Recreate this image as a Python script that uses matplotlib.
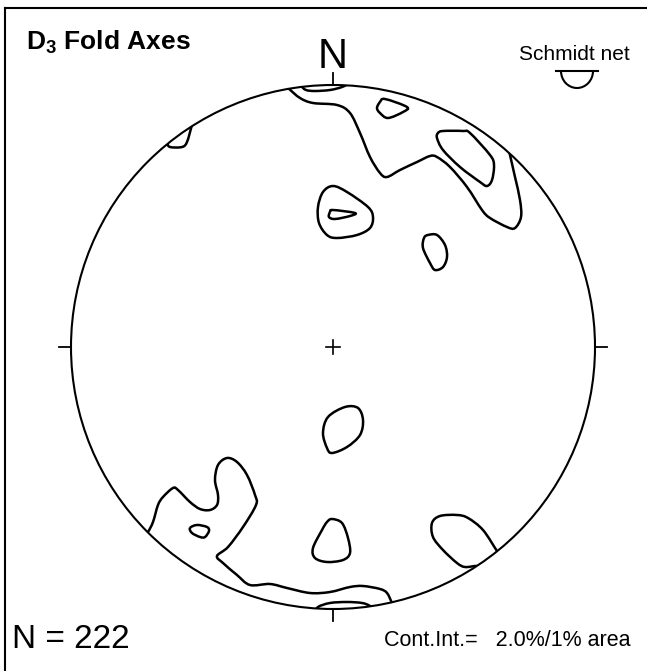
import numpy as np
import matplotlib
matplotlib.use("Agg")
import matplotlib.pyplot as plt
from matplotlib.patches import Circle, Arc, PathPatch
from matplotlib.path import Path

plt.rcParams['font.family'] = ['Liberation Sans', 'DejaVu Sans']
plt.rcParams['mathtext.fontset'] = 'custom'
plt.rcParams['mathtext.rm'] = 'Liberation Sans'
plt.rcParams['mathtext.bf'] = 'Liberation Sans:bold'

NET_R = 262.0
title = "D$_\\mathbf{3}$ Fold Axes"
n_label = "N = 222"
cont_label = "Cont.Int.=   2.0%/1% area"
net_label = "Schmidt net"

# open contours (end on the primitive circle)
north_band = [(-51, 264), (-45, 259), (-33, 249), (-20, 244), (4, 242), (17, 234), (27, 214),
              (37, 190), (47, 174), (54, 170), (67, 177), (84, 185), (97, 191), (104, 190),
              (117, 180), (134, 160), (149, 137), (157, 129), (174, 120), (182, 119),
              (188, 130), (187, 147), (182, 170), (177, 192), (175, 201)]
north_lens = [(-36, 265), (-32, 261), (-27, 257), (-18, 256), (-3, 257), (9, 260), (16, 264), (18, 268)]
nw_sliver = [(-169, 208), (-166, 204), (-163, 200), (-151, 200), (-146, 205), (-141, 222), (-139, 226)]
south_lens = [(-18, -266), (-15, -260), (-3, -256), (14, -255), (29, -256), (37, -259), (41, -264)]
sw_band = [(-188, -188), (-185, -185), (-180, -175), (-175, -158), (-170, -150), (-160, -141),
           (-155, -143), (-143, -155), (-133, -162), (-123, -163), (-116, -158), (-115, -148),
           (-118, -133), (-115, -118), (-106, -111), (-96, -115), (-86, -128), (-78, -148),
           (-77, -158), (-90, -180), (-105, -200), (-116, -209), (-110, -216), (-96, -228),
           (-83, -238), (-63, -237), (-46, -241), (-23, -246), (-3, -245), (17, -240),
           (30, -239), (47, -242), (54, -246), (59, -256), (62, -262)]
se_lobe = [(167, -207), (164, -204), (150, -183), (135, -171), (124, -168), (107, -169),
           (99, -176), (100, -190), (110, -203), (124, -216), (132, -220), (144, -219), (149, -222)]

# closed contours
ne_triangle = [(47, 245), (52, 248), (74, 240), (70, 235), (55, 229), (47, 234), (44, 239)]
ne_elongate = [(105, 214), (110, 216), (130, 216), (137, 214), (157, 192), (161, 182), (159, 167),
               (154, 161), (147, 165), (127, 180), (110, 197), (104, 209)]
cn_outer = [(0, 161), (14, 155), (35, 140), (40, 130), (37, 119), (24, 112), (4, 109),
            (-6, 112), (-14, 124), (-15, 140), (-10, 155)]
cn_inner = [(-3, 135), (0, 137), (22, 134), (17, 131), (2, 128), (-4, 130)]
ne_oval = [(91, 109), (95, 112), (104, 112), (112, 102), (114, 90), (110, 80), (102, 77),
           (97, 84), (90, 99)]
cs_oval = [(-5, -70), (12, -60), (25, -61), (30, -73), (27, -88), (14, -100), (-1, -106),
           (-6, -101), (-10, -86)]
s_drop = [(-1, -172), (9, -176), (15, -191), (17, -206), (10, -213), (-6, -215), (-18, -211),
          (-20, -201), (-11, -183), (-6, -175)]
sw_oval = [(-143, -181), (-136, -178), (-126, -180), (-124, -184), (-128, -190), (-133, -190),
           (-141, -186)]

open_contours = [north_band, north_lens, nw_sliver, south_lens, sw_band, se_lobe]
closed_contours = [ne_triangle, ne_elongate, cn_outer, cn_inner, ne_oval, cs_oval, s_drop, sw_oval]

# ---------------- figure
W, H = 647, 671
CX, CY = 333, 347          # pixel position of net centre
fig = plt.figure(figsize=(W / 100, H / 100), dpi=100)
ax = fig.add_axes([0, 0, 1, 1])
ax.set_xlim(-CX / NET_R, (W - CX) / NET_R)
ax.set_ylim(-(H - CY) / NET_R, CY / NET_R)
ax.set_aspect('auto')
ax.axis('off')

circ = Circle((0, 0), 1.0, fill=False, lw=1.5, color='black', zorder=3)
ax.add_patch(circ)
clipc = Circle((0, 0), 1.0, transform=ax.transData, visible=False)
ax.add_patch(clipc)


def bezier_path(pts, closed):
    """Smooth cubic-Bezier path passing through the digitised vertices."""
    p = np.asarray(pts, dtype=float) / NET_R
    n = len(p)
    verts = [p[0]]
    codes = [Path.MOVETO]
    nseg = n if closed else n - 1
    for i in range(nseg):
        if closed:
            p0, p1, p2, p3 = p[(i - 1) % n], p[i], p[(i + 1) % n], p[(i + 2) % n]
        else:
            p0 = p[max(i - 1, 0)]
            p1 = p[i]
            p2 = p[i + 1]
            p3 = p[min(i + 2, n - 1)]
        c1 = p1 + (p2 - p0) / 6.0
        c2 = p2 - (p3 - p1) / 6.0
        verts += [c1, c2, p2]
        codes += [Path.CURVE4] * 3
    return Path(np.array(verts), codes)


lw_c = 1.8
for c in open_contours:
    pp = PathPatch(bezier_path(c, False), fill=False, lw=lw_c, edgecolor='black',
                   joinstyle='round', capstyle='round', zorder=2)
    ax.add_patch(pp)
    pp.set_clip_path(clipc)
for c in closed_contours:
    pp = PathPatch(bezier_path(c, True), fill=False, lw=lw_c, edgecolor='black',
                   joinstyle='round', zorder=2)
    ax.add_patch(pp)

# ticks at cardinal points and centre cross
tl = 12 / NET_R
ax.plot([0, 0], [1, 1 + tl], color='black', lw=1.3)
ax.plot([0, 0], [-1, -1 - tl], color='black', lw=1.3)
ax.plot([1, 1 + tl], [0, 0], color='black', lw=1.3)
ax.plot([-1, -1 - tl], [0, 0], color='black', lw=1.3)
cs = 7 / NET_R
ax.plot([-cs, cs], [0, 0], color='black', lw=1.2)
ax.plot([0, 0], [-cs, cs], color='black', lw=1.2)


# frame (top and left edges)
def fx(px):
    return px / W


def fy(py):
    return 1 - py / H


fig.add_artist(plt.Line2D([fx(5), 1], [fy(8), fy(8)], color='black', lw=1.5, transform=fig.transFigure))
fig.add_artist(plt.Line2D([fx(5), fx(5)], [fy(8), 0], color='black', lw=1.5, transform=fig.transFigure))

# texts
fig.text(fx(26), fy(42), title, fontsize=19, fontweight='bold', ha='left', va='center')
fig.text(fx(333), fy(68), "N", fontsize=30, ha='center', va='baseline')
fig.text(fx(630), fy(55), net_label, fontsize=15, ha='right', va='center')
fig.text(fx(12), fy(640), n_label, fontsize=24, ha='left', va='center')
fig.text(fx(630), fy(640), cont_label, fontsize=15.5, ha='right', va='center')

# Schmidt net lower hemisphere symbol
sx0, sx1, sy = 556, 598, 71
fig.add_artist(plt.Line2D([fx(sx0), fx(sx1)], [fy(sy), fy(sy)], color='black', lw=1.5,
                          transform=fig.transFigure))
ax.add_patch(Arc((((sx0 + sx1) / 2 - CX) / NET_R, (CY - sy) / NET_R), 32 / NET_R, 34 / NET_R,
                 theta1=180, theta2=360, color='black', lw=1.5))

fig.savefig("out.png", dpi=100)
